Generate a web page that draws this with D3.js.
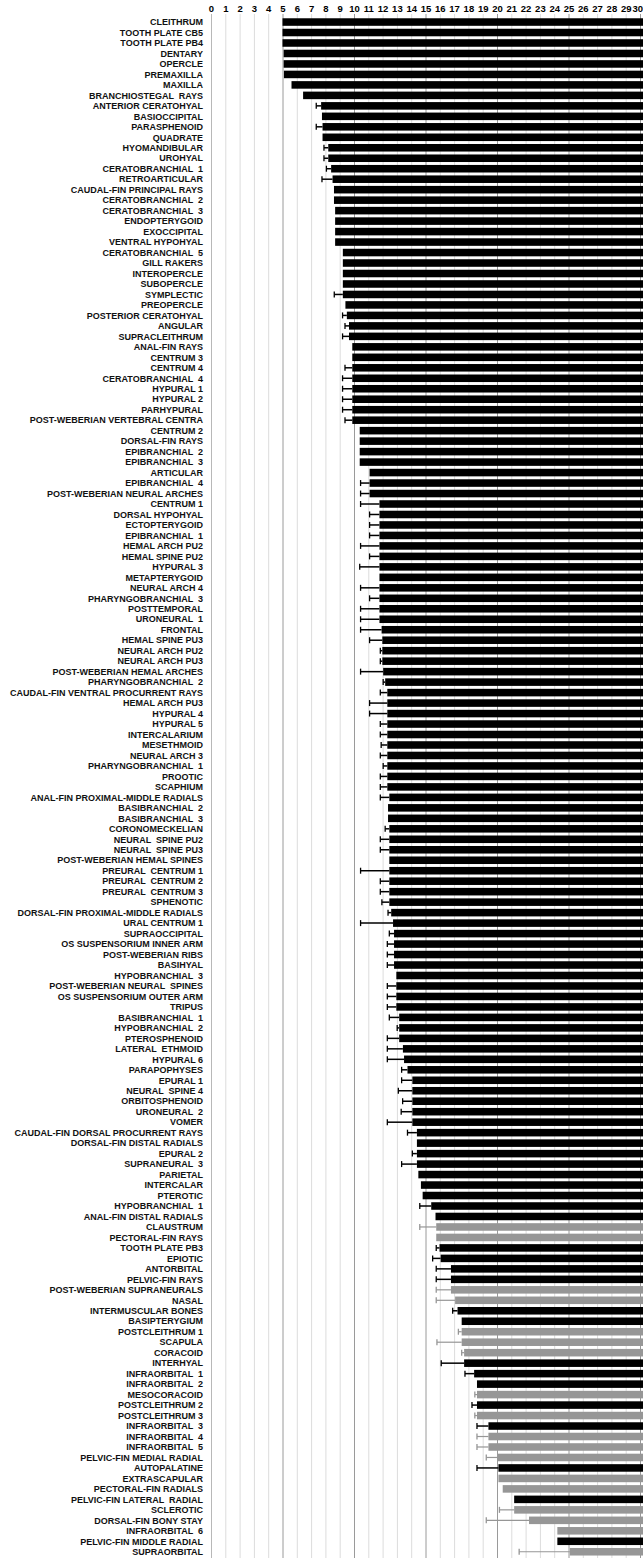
<!DOCTYPE html>
<html><head><meta charset="utf-8">
<script src="https://cdn.jsdelivr.net/npm/d3@7/dist/d3.min.js"></script>
<style>
html,body{margin:0;padding:0;background:#fff;}
svg{display:block;}
</style></head>
<body>
<div id="chart"></div>
<script>
const bones = ["CLEITHRUM","TOOTH PLATE CB5","TOOTH PLATE PB4","DENTARY","OPERCLE","PREMAXILLA","MAXILLA","BRANCHIOSTEGAL  RAYS","ANTERIOR CERATOHYAL","BASIOCCIPITAL","PARASPHENOID","QUADRATE","HYOMANDIBULAR","UROHYAL","CERATOBRANCHIAL  1","RETROARTICULAR","CAUDAL-FIN PRINCIPAL RAYS","CERATOBRANCHIAL  2","CERATOBRANCHIAL  3","ENDOPTERYGOID","EXOCCIPITAL","VENTRAL HYPOHYAL","CERATOBRANCHIAL  5","GILL RAKERS","INTEROPERCLE","SUBOPERCLE","SYMPLECTIC","PREOPERCLE","POSTERIOR CERATOHYAL","ANGULAR","SUPRACLEITHRUM","ANAL-FIN RAYS","CENTRUM 3","CENTRUM 4","CERATOBRANCHIAL  4","HYPURAL 1","HYPURAL 2","PARHYPURAL","POST-WEBERIAN VERTEBRAL CENTRA","CENTRUM 2","DORSAL-FIN RAYS","EPIBRANCHIAL  2","EPIBRANCHIAL  3","ARTICULAR","EPIBRANCHIAL  4","POST-WEBERIAN NEURAL ARCHES","CENTRUM 1","DORSAL HYPOHYAL","ECTOPTERYGOID","EPIBRANCHIAL  1","HEMAL ARCH PU2","HEMAL SPINE PU2","HYPURAL 3","METAPTERYGOID","NEURAL ARCH 4","PHARYNGOBRANCHIAL  3","POSTTEMPORAL","URONEURAL  1","FRONTAL","HEMAL SPINE PU3","NEURAL ARCH PU2","NEURAL ARCH PU3","POST-WEBERIAN HEMAL ARCHES","PHARYNGOBRANCHIAL  2","CAUDAL-FIN VENTRAL PROCURRENT RAYS","HEMAL ARCH PU3","HYPURAL 4","HYPURAL 5","INTERCALARIUM","MESETHMOID","NEURAL ARCH 3","PHARYNGOBRANCHIAL  1","PROOTIC","SCAPHIUM","ANAL-FIN PROXIMAL-MIDDLE RADIALS","BASIBRANCHIAL  2","BASIBRANCHIAL  3","CORONOMECKELIAN","NEURAL  SPINE PU2","NEURAL  SPINE PU3","POST-WEBERIAN HEMAL SPINES","PREURAL  CENTRUM 1","PREURAL  CENTRUM 2","PREURAL  CENTRUM 3","SPHENOTIC","DORSAL-FIN PROXIMAL-MIDDLE RADIALS","URAL CENTRUM 1","SUPRAOCCIPITAL","OS SUSPENSORIUM INNER ARM","POST-WEBERIAN RIBS","BASIHYAL","HYPOBRANCHIAL  3","POST-WEBERIAN NEURAL  SPINES","OS SUSPENSORIUM OUTER ARM","TRIPUS","BASIBRANCHIAL  1","HYPOBRANCHIAL  2","PTEROSPHENOID","LATERAL  ETHMOID","HYPURAL 6","PARAPOPHYSES","EPURAL 1","NEURAL  SPINE 4","ORBITOSPHENOID","URONEURAL  2","VOMER","CAUDAL-FIN DORSAL PROCURRENT RAYS","DORSAL-FIN DISTAL RADIALS","EPURAL 2","SUPRANEURAL  3","PARIETAL","INTERCALAR","PTEROTIC","HYPOBRANCHIAL  1","ANAL-FIN DISTAL RADIALS","CLAUSTRUM","PECTORAL-FIN RAYS","TOOTH PLATE PB3","EPIOTIC","ANTORBITAL","PELVIC-FIN RAYS","POST-WEBERIAN SUPRANEURALS","NASAL","INTERMUSCULAR BONES","BASIPTERYGIUM","POSTCLEITHRUM 1","SCAPULA","CORACOID","INTERHYAL","INFRAORBITAL  1","INFRAORBITAL  2","MESOCORACOID","POSTCLEITHRUM 2","POSTCLEITHRUM 3","INFRAORBITAL  3","INFRAORBITAL  4","INFRAORBITAL  5","PELVIC-FIN MEDIAL RADIAL","AUTOPALATINE","EXTRASCAPULAR","PECTORAL-FIN RADIALS","PELVIC-FIN LATERAL  RADIAL","SCLEROTIC","DORSAL-FIN BONY STAY","INFRAORBITAL  6","PELVIC-FIN MIDDLE RADIAL","SUPRAORBITAL"];

// onset value (bar start) per bone
const onset = [5.0,5.0,5.0,5.08,5.08,5.1,5.63,6.44,7.7,7.76,7.8,7.8,8.2,8.2,8.4,8.5,8.6,8.6,8.68,8.68,8.68,8.68,9.22,9.22,9.22,9.22,9.22,9.4,9.5,9.65,9.65,9.88,9.88,9.88,9.88,9.88,9.88,9.88,9.88,10.4,10.4,10.4,10.4,11.09,11.09,11.09,11.78,11.78,11.78,11.78,11.78,11.78,11.78,11.78,11.78,11.78,11.78,11.78,11.93,11.98,11.98,11.98,12.04,12.18,12.33,12.33,12.33,12.33,12.33,12.33,12.33,12.33,12.33,12.33,12.47,12.38,12.38,12.47,12.47,12.47,12.47,12.47,12.47,12.47,12.47,12.6,12.73,12.8,12.8,12.8,12.8,12.96,12.96,12.96,12.96,13.16,13.16,13.16,13.42,13.5,13.74,14.08,14.08,14.08,14.08,14.08,14.4,14.4,14.4,14.4,14.5,14.68,14.8,15.4,15.7,15.75,15.75,15.98,16.06,16.78,16.78,16.78,17.07,17.24,17.53,17.53,17.53,17.7,17.7,18.4,18.6,18.6,18.6,18.6,19.4,19.4,19.4,20.06,20.1,20.1,20.4,21.2,21.2,22.24,24.22,24.22,25.09];

// lower end of the error bar (null = none)
const lower = [null,null,null,null,null,null,null,null,7.36,null,7.36,null,7.9,7.9,8.07,7.76,null,null,null,null,null,null,null,null,null,null,8.62,null,9.2,9.37,9.2,null,null,9.37,9.2,9.2,9.2,9.2,9.37,null,null,null,null,null,10.46,10.46,10.46,11.09,11.09,11.09,10.46,11.09,10.4,null,10.46,11.09,10.46,10.46,10.46,11.09,11.84,11.84,10.46,12.04,11.84,11.09,11.09,11.84,11.84,11.9,11.84,12.04,11.84,11.84,11.84,null,null,12.18,11.84,11.84,null,10.46,11.84,11.84,11.95,12.38,10.46,12.47,12.33,12.33,12.33,null,12.33,12.33,12.33,12.47,13.02,12.33,12.33,12.33,13.33,13.33,13.1,13.4,13.3,12.33,13.74,null,14.08,13.33,null,null,null,14.6,null,14.6,null,15.75,15.5,15.75,15.75,15.75,15.75,16.9,null,17.3,15.8,17.53,16.1,17.76,null,18.45,18.25,18.45,18.6,18.6,18.6,19.25,18.6,null,null,null,20.17,19.25,null,null,21.55];

// 1 = grey bar, 0 = black bar
const grey = [0,0,0,0,0,0,0,0,0,0,0,0,0,0,0,0,0,0,0,0,0,0,0,0,0,0,0,0,0,0,0,0,0,0,0,0,0,0,0,0,0,0,0,0,0,0,0,0,0,0,0,0,0,0,0,0,0,0,0,0,0,0,0,0,0,0,0,0,0,0,0,0,0,0,0,0,0,0,0,0,0,0,0,0,0,0,0,0,0,0,0,0,0,0,0,0,0,0,0,0,0,0,0,0,0,0,0,0,0,0,0,0,0,0,0,1,1,0,0,0,0,1,1,0,0,1,1,1,0,0,0,1,0,1,0,1,1,1,0,1,1,0,1,1,1,0,1];

const ticks = d3.range(0, 31);
const axisMax = 30;

const W = 643, H = 1558;
const svg = d3.select("#chart").append("svg").attr("width", W).attr("height", H);

const x = d3.scaleLinear().domain([0, axisMax]).range([211, 640]);
const y = d3.scaleBand().domain(bones).range([16.8, 1557]).paddingInner(0.28).paddingOuter(0.14);

const data = bones.map((b, i) => ({name: b, v: onset[i], lo: lower[i], g: grey[i]}));

// grid
svg.append("g").selectAll("line").data(ticks).join("line")
  .attr("x1", d => x(d) + 0.5).attr("x2", d => x(d) + 0.5)
  .attr("y1", 14).attr("y2", H)
  .attr("stroke", d => d === 0 ? "#b8b8b8" : (d % 5 === 0 ? "#9a9a9a" : "#dcdcdc"))
  .attr("stroke-width", 1);

// top axis
const axis = d3.axisTop(x).tickValues(ticks).tickSize(0).tickPadding(0).tickFormat(d3.format("d"));
const ag = svg.append("g").attr("transform", "translate(0,12)").call(axis);
ag.select(".domain").remove();
ag.selectAll("text").attr("font-family", "Liberation Sans, Arial, sans-serif")
  .attr("font-weight", "bold").attr("font-size", 9.5).attr("fill", "#000");
ag.selectAll(".tick").filter(d => d === axisMax).select("text")
  .attr("text-anchor", "end").attr("x", W - x(axisMax) - 0.5);

// bars
svg.append("g").selectAll("rect").data(data).join("rect")
  .attr("x", d => x(d.v)).attr("width", d => x(axisMax) + 3 - x(d.v))
  .attr("y", d => y(d.name)).attr("height", y.bandwidth())
  .attr("fill", d => d.g ? "#969696" : "#000");

// error bars
const eb = data.filter(d => d.lo !== null);
const eg = svg.append("g");
eg.selectAll("line.h").data(eb).join("line").attr("class", "h")
  .attr("x1", d => x(d.lo)).attr("x2", d => x(d.v))
  .attr("y1", d => y(d.name) + y.bandwidth() / 2).attr("y2", d => y(d.name) + y.bandwidth() / 2)
  .attr("stroke", d => d.g ? "#969696" : "#000").attr("stroke-width", d => d.g ? 1.2 : 1.5);
eg.selectAll("line.c").data(eb).join("line").attr("class", "c")
  .attr("x1", d => x(d.lo)).attr("x2", d => x(d.lo))
  .attr("y1", d => y(d.name) + y.bandwidth() / 2 - 3).attr("y2", d => y(d.name) + y.bandwidth() / 2 + 3)
  .attr("stroke", d => d.g ? "#969696" : "#000").attr("stroke-width", 1.3);

// labels
svg.append("g").selectAll("text").data(data).join("text")
  .attr("x", 203).attr("y", d => y(d.name) + y.bandwidth() / 2)
  .attr("dy", "0.36em").attr("text-anchor", "end")
  .attr("font-family", "Liberation Sans, Arial, sans-serif").attr("font-weight", "bold")
  .attr("font-size", 9).attr("fill", "#111")
  .style("white-space", "pre")
  .text(d => d.name);
</script>
</body></html>
